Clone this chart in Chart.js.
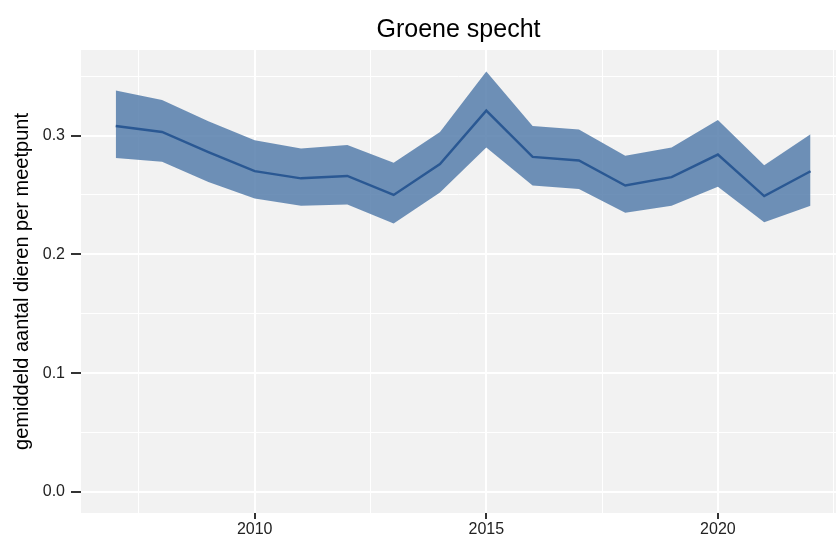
<!DOCTYPE html>
<html>
<head>
<meta charset="utf-8">
<script src="https://cdn.jsdelivr.net/npm/chart.js@4/dist/chart.umd.min.js"></script>
<style>
  html, body { margin: 0; padding: 0; background: #ffffff; }
  #wrap { width: 838px; height: 543px; }
</style>
</head>
<body>
<div id="wrap"><canvas id="myChart" width="838" height="543"></canvas></div>
<script>
// data
var years = [2007, 2008, 2009, 2010, 2011, 2012, 2013, 2014, 2015, 2016, 2017, 2018, 2019, 2020, 2021, 2022];
var meanValues = [0.308, 0.303, 0.286, 0.270, 0.264, 0.266, 0.250, 0.276, 0.321, 0.282, 0.279, 0.258, 0.265, 0.284, 0.249, 0.270];
var upperValues = [0.338, 0.330, 0.312, 0.296, 0.289, 0.292, 0.277, 0.303, 0.354, 0.308, 0.305, 0.283, 0.290, 0.313, 0.275, 0.301];
var lowerValues = [0.281, 0.278, 0.261, 0.247, 0.241, 0.242, 0.226, 0.252, 0.290, 0.258, 0.255, 0.235, 0.241, 0.257, 0.227, 0.241];

var xTickValues = [2007.5, 2010, 2012.5, 2015, 2017.5, 2020, 2022.5];
var yTickValues = [0, 0.05, 0.1, 0.15, 0.2, 0.25, 0.3, 0.35];

var titleText = "Groene specht";
var yTitle = "gemiddeld aantal dieren per meetpunt";

function toPoints(values) {
  return years.map(function (y, i) { return { x: y, y: values[i] }; });
}

function isMajorX(v) { return v % 5 === 0; }
function isMajorY(v) { return Math.abs(v * 10 - Math.round(v * 10)) < 1e-6; }

// grey panel behind the plot, title centred over the panel
var panelBg = {
  id: "panelBg",
  beforeDraw: function (chart) {
    var a = chart.chartArea;
    var c = chart.ctx;
    c.save();
    c.fillStyle = "#f2f2f2";
    c.fillRect(a.left, a.top, a.right - a.left, a.bottom - a.top);
    c.restore();
  },
  afterDraw: function (chart) {
    var a = chart.chartArea;
    var c = chart.ctx;
    c.save();
    c.fillStyle = "#000000";
    c.font = "25px 'Liberation Sans'";
    c.textAlign = "center";
    c.textBaseline = "alphabetic";
    c.fillText(titleText, (a.left + a.right) / 2, a.top - 13);
    c.restore();
  }
};

var ctx = document.getElementById("myChart").getContext("2d");
var chart = new Chart(ctx, {
  type: "line",
  data: {
    datasets: [
      {
        label: "upper",
        data: toPoints(upperValues),
        borderWidth: 0,
        pointRadius: 0,
        backgroundColor: "rgba(86, 126, 171, 0.85)",
        fill: "+1",
        order: 2
      },
      {
        label: "lower",
        data: toPoints(lowerValues),
        borderWidth: 0,
        pointRadius: 0,
        fill: false,
        order: 2
      },
      {
        label: "gemiddelde",
        data: toPoints(meanValues),
        borderColor: "#2a5893",
        borderWidth: 2.4,
        pointRadius: 0,
        fill: false,
        order: 0
      }
    ]
  },
  options: {
    responsive: false,
    animation: false,
    layout: { padding: { left: 0, right: 2, top: 50, bottom: 0 } },
    plugins: {
      legend: { display: false },
      tooltip: { enabled: false },
      title: { display: false }
    },
    scales: {
      x: {
        type: "linear",
        min: 2006.25,
        max: 2022.55,
        afterBuildTicks: function (scale) {
          scale.ticks = xTickValues.map(function (v) { return { value: v }; });
        },
        afterFit: function (scale) { scale.height = 30; },
        border: { display: false },
        grid: {
          color: "#ffffff",
          lineWidth: function (c) { return c.tick && isMajorX(c.tick.value) ? 2 : 1; },
          tickColor: function (c) { return c.tick && isMajorX(c.tick.value) ? "#333333" : "rgba(0,0,0,0)"; },
          tickWidth: 2,
          tickLength: 6
        },
        ticks: {
          autoSkip: false,
          maxRotation: 0,
          padding: 1,
          color: "#222222",
          font: { family: "Liberation Sans", size: 16 },
          callback: function (v) { return isMajorX(v) ? String(v) : ""; }
        }
      },
      y: {
        type: "linear",
        min: -0.0177,
        max: 0.372,
        afterBuildTicks: function (scale) {
          scale.ticks = yTickValues.map(function (v) { return { value: v }; });
        },
        afterFit: function (scale) { scale.width = 81; },
        border: { display: false },
        grid: {
          color: "#ffffff",
          lineWidth: function (c) { return c.tick && isMajorY(c.tick.value) ? 2 : 1; },
          tickColor: function (c) { return c.tick && isMajorY(c.tick.value) ? "#333333" : "rgba(0,0,0,0)"; },
          tickWidth: 2,
          tickLength: 10
        },
        title: {
          display: true,
          text: yTitle,
          color: "#000000",
          font: { family: "Liberation Sans", size: 20 },
          padding: { top: 10, bottom: 0 }
        },
        ticks: {
          padding: 6,
          color: "#222222",
          font: { family: "Liberation Sans", size: 16 },
          callback: function (v) { return isMajorY(v) ? v.toFixed(1) : ""; }
        }
      }
    }
  },
  plugins: [panelBg]
});
</script>
</body>
</html>
